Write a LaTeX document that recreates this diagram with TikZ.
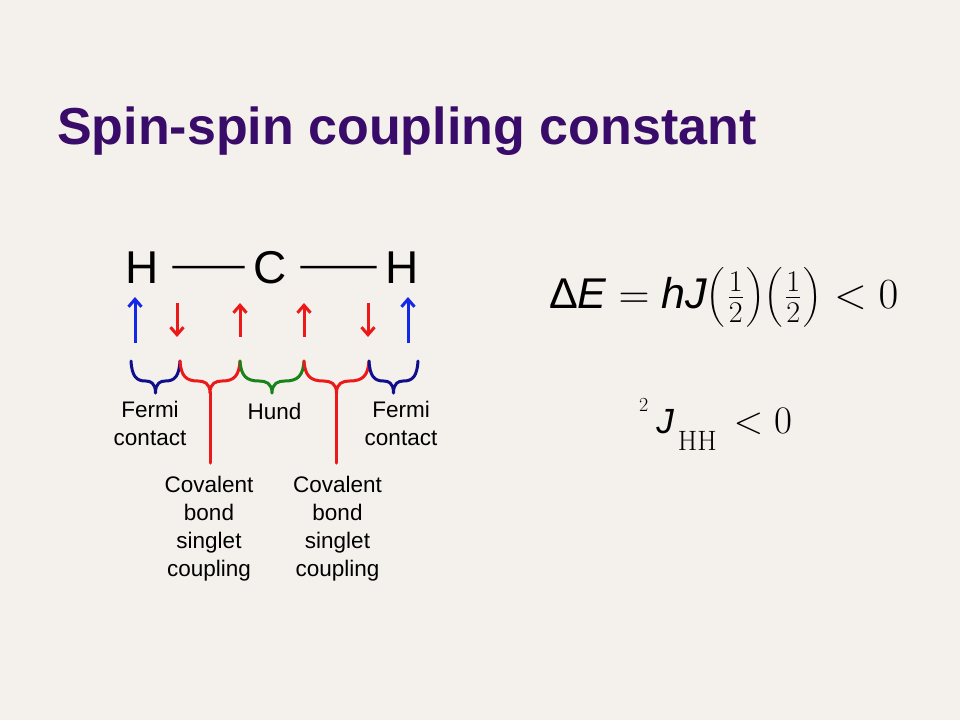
\RequirePackage{fix-cm}
\documentclass[tikz,border=0pt]{standalone}
\usepackage{amsmath}
\usepackage{fontspec}
\usetikzlibrary{arrows.meta}
\newfontfamily\arial{Liberation Sans}
\definecolor{bg}{RGB}{244,240,236}
\definecolor{titlec}{RGB}{56,12,104}
\definecolor{arrblue}{RGB}{20,40,230}
\definecolor{brblue}{RGB}{15,15,140}
\definecolor{sred}{RGB}{235,25,25}
\definecolor{sgreen}{RGB}{25,130,25}
\newcommand{\drawbrace}[3]{%
  \pgfmathsetmacro\brW{#3-#2}%
  \pgfmathsetmacro\brC{(#2+#3)/2}%
  \draw[bracestyle,#1] (#2,361) .. controls ({#2+1},376) and ({#2+0.1*\brW},381) .. ({#2+0.3*\brW},381)
     .. controls ({\brC-0.1*\brW},381) and (\brC,383) .. (\brC,393)
     .. controls (\brC,383) and ({\brC+0.1*\brW},381) .. ({#3-0.3*\brW},381)
     .. controls ({#3-0.1*\brW},381) and ({#3-1},376) .. (#3,361);%
}
\begin{document}
\begin{tikzpicture}[x=1pt,y=-1pt,
  bracestyle/.style={line width=3pt, line cap=round, line join=round},
  spinarrow/.style={line width=3pt, -{Straight Barb[length=7.5pt,width=13pt,line width=3pt]}},
  bond/.style={line width=2.5pt},
  atom/.style={inner sep=0pt, anchor=base, font=\arial\fontsize{46}{52}\selectfont},
  lbl/.style={inner sep=0pt, anchor=north, align=center, font=\arial\fontsize{22.5}{28}\selectfont}]
\fill[bg] (0,0) rectangle (960,720);
\useasboundingbox (0,0) rectangle (960,720);

% title
\node[anchor=base west, inner sep=0pt, text=titlec, font=\arial\bfseries\fontsize{52}{60}\selectfont] (title) at (57,144) {Spin-spin coupling constant};

% atoms
\node[atom] (H1) at (142.5,283) {H};
\node[atom] (C) at (270,283) {C};
\node[atom] (H2) at (402.5,283) {H};
\draw[bond, shorten <=13pt, shorten >=8.5pt] (H1.east) -- (C.west);
\draw[bond, shorten <=13.5pt, shorten >=9pt] (C.east) -- (H2.west);

% spins
\draw[spinarrow, arrblue] (135,343) -- (135,297);
\draw[spinarrow, sred] (177,303) -- (177,337);
\draw[spinarrow, sred] (240,337) -- (240,303);
\draw[spinarrow, sred] (304,337) -- (304,303);
\draw[spinarrow, sred] (368,303) -- (368,337);
\draw[spinarrow, arrblue] (408,343) -- (408,297);

% braces
\drawbrace{brblue}{131}{180}
\drawbrace{sred}{180}{240}
\drawbrace{sgreen}{240}{304}
\drawbrace{sred}{304}{369}
\drawbrace{brblue}{369}{418}
\draw[bracestyle, sred] (210,392) -- (210,463);
\draw[bracestyle, sred] (336.5,392) -- (336.5,463);

% labels
\node[lbl] (fermi1) at (150,401) {Fermi\\contact};
\node[lbl] (hund) at (274.5,403) {Hund};
\node[lbl] (fermi2) at (401,401) {Fermi\\contact};
\node[lbl] (cov1) at (209,476) {Covalent\\bond\\singlet\\coupling};
\node[lbl] (cov2) at (337.5,476) {Covalent\\bond\\singlet\\coupling};

% equations
\node[anchor=base west, inner sep=0pt, font=\fontsize{43}{50}\selectfont] (eq1) at (549,308)
  {{\arial Δ\itshape E}${}={}${\arial\itshape hJ}$\bigl(\mkern1mu\tfrac{1}{2}\mkern1mu\bigr)\bigl(\mkern1mu\tfrac{1}{2}\mkern1mu\bigr)<0$};
\node[anchor=base west, inner sep=0pt, font=\fontsize{39}{44}\selectfont] (eq2) at (639,433)
  {\raisebox{22pt}{\fontsize{20}{24}\selectfont 2}\hspace{8pt}{\arial\itshape\fontsize{35}{40}\selectfont J}\hspace{4pt}\raisebox{-17pt}{\fontsize{28}{34}\selectfont HH}\hspace{17pt}$<0$};
\end{tikzpicture}
\end{document}
